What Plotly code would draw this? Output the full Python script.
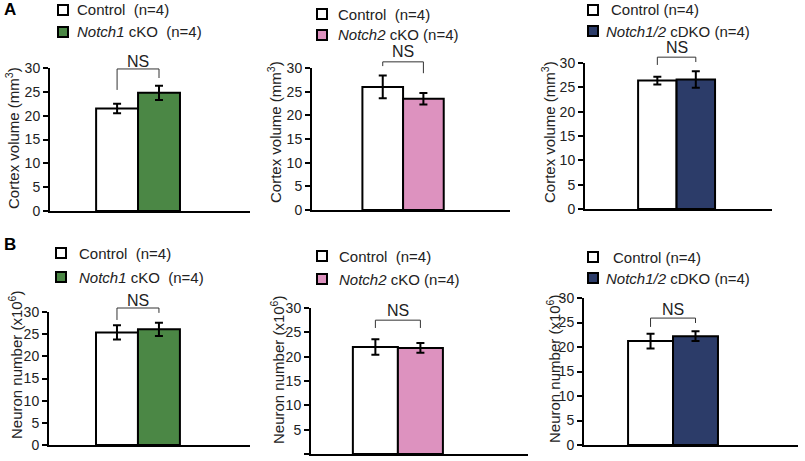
import plotly.graph_objects as go

W, H = 805, 461

# ---- data ----
mutant_labels = ["<i>Notch1</i> cKO", "<i>Notch2</i> cKO", "<i>Notch1/2</i> cDKO",
                 "<i>Notch1</i> cKO", "<i>Notch2</i> cKO", "<i>Notch1/2</i> cDKO"]
control_vals = [21.5, 26.0, 26.4, 25.4, 22.0, 21.2]
control_err = [1.0, 2.4, 0.8, 1.6, 1.6, 1.5]
mutant_vals = [24.8, 23.5, 26.6, 26.1, 21.8, 22.2]
mutant_err = [1.5, 1.2, 1.7, 1.5, 1.0, 1.0]
mutant_colors = ["#4b8745", "#dd92bf", "#2c3c69", "#4b8745", "#dd92bf", "#2c3c69"]
y_titles = ["Cortex volume (mm<sup>3</sup>)"] * 3 + ["Neuron number (x10<sup>6</sup>)"] * 3
y_ticks = [0, 5, 10, 15, 20, 25, 30]

# ---- layout geometry (pixels) ----
# plot-area x0, x1, ytop(30), ybottom(0)
boxes = [(50, 250, 68, 211), (312, 510, 68, 210), (585, 772, 63, 209),
         (49, 250, 312, 445), (311, 528, 308, 454), (584, 798, 298, 445)]
xranges = [(-1.60, 3.17), (-1.74, 3.13), (-1.88, 2.98),
           (-1.62, 3.17), (-1.43, 3.39), (-1.48, 3.28)]
# bracket: top, left leg end, right leg end, NS y (data units)
brackets = [(29.8, 25.4, 27.9, 31.4), (31.3, 30.4, 28.9, 33.4), (31.2, 29.6, 30.2, 33.1),
            (30.9, 28.2, 29.8, 32.7), (27.5, 25.9, 25.9, 29.4), (25.9, 24.1, 24.9, 27.6)]
# y-axis title center (px)
ytitle_pos = [(12, 138), (274, 132), (548, 132), (15, 365), (277, 370), (553, 369)]
# legend: square x0, control center y, mutant center y, control text x, mutant text x
legend_pos = [(58, 10, 32, 75, 75), (317, 14, 35, 336, 336), (588, 10, 31, 609, 604),
              (56, 253, 277, 77, 77), (317, 256, 279, 337, 337), (588, 257, 278, 611, 604)]
control_texts = ["Control&nbsp;&nbsp;(n=4)", "Control&nbsp;&nbsp;(n=4)", "Control (n=4)",
                 "Control&nbsp;&nbsp;(n=4)", "Control&nbsp;&nbsp;(n=4)", "Control (n=4)"]
mutant_suffix = ["&nbsp;&nbsp;(n=4)", " (n=4)", " (n=4)", "&nbsp;&nbsp;(n=4)", " (n=4)", " (n=4)"]

FONT = "Arial, Liberation Sans, sans-serif"
TXT = "#222222"


def px(x):
    return x / W


def py(y):
    return 1 - y / H


fig = go.Figure()
shapes = []
annotations = []

for i in range(6):
    n = "" if i == 0 else str(i + 1)
    xa, ya = "x" + n, "y" + n
    x0, x1, yt, yb = boxes[i]
    fig.add_trace(go.Bar(x=[0], y=[control_vals[i]], width=1,
                         marker=dict(color="white", line=dict(color="black", width=2)),
                         error_y=dict(type="data", array=[control_err[i]], color="black",
                                      thickness=2, width=4),
                         xaxis=xa, yaxis=ya, showlegend=False))
    fig.add_trace(go.Bar(x=[1], y=[mutant_vals[i]], width=1,
                         marker=dict(color=mutant_colors[i], line=dict(color="black", width=2)),
                         error_y=dict(type="data", array=[mutant_err[i]], color="black",
                                      thickness=2, width=4),
                         xaxis=xa, yaxis=ya, showlegend=False))
    fig.update_layout(**{
        "xaxis" + n: dict(domain=[px(x0), px(x1)], range=list(xranges[i]), anchor=ya,
                          showline=True, linecolor="black", linewidth=2, ticks="",
                          showticklabels=False, showgrid=False, zeroline=False,
                          automargin=False),
        "yaxis" + n: dict(domain=[py(yb), py(yt)], range=[0, 30], anchor=xa,
                          tickvals=y_ticks, showline=True, linecolor="black", linewidth=2,
                          ticks="outside", ticklen=5, tickwidth=2, tickcolor="black",
                          showgrid=False, zeroline=False, automargin=False,
                          tickfont=dict(family=FONT, size=14, color=TXT)),
    })

    def dy(v):
        return py(yb - v / 30.0 * (yb - yt))

    # significance bracket (x in data units, y converted to paper so it is not clipped)
    top, l_end, r_end, ns_y = brackets[i]
    bl = dict(color="#333333", width=1)
    shapes.append(dict(type="line", xref=xa, yref="paper", x0=0, x1=0, y0=dy(l_end), y1=dy(top), line=bl))
    shapes.append(dict(type="line", xref=xa, yref="paper", x0=0, x1=1, y0=dy(top), y1=dy(top), line=bl))
    shapes.append(dict(type="line", xref=xa, yref="paper", x0=1, x1=1, y0=dy(r_end), y1=dy(top), line=bl))
    annotations.append(dict(x=0.5, y=dy(ns_y), xref=xa, yref="paper", text="NS", showarrow=False,
                            yanchor="middle", font=dict(family=FONT, size=16, color=TXT)))
    # y title
    tx, ty = ytitle_pos[i]
    annotations.append(dict(x=px(tx), y=py(ty), xref="paper", yref="paper", text=y_titles[i],
                            textangle=-90, showarrow=False, xanchor="center", yanchor="middle",
                            font=dict(family=FONT, size=15, color=TXT)))
    # legend
    sx, cy, my, ctx, mtx = legend_pos[i]
    for cyy, col in ((cy, "white"), (my, mutant_colors[i])):
        shapes.append(dict(type="rect", xref="paper", yref="paper",
                           x0=px(sx), x1=px(sx + 10), y0=py(cyy + 5), y1=py(cyy - 5),
                           fillcolor=col, line=dict(color="black", width=2)))
    annotations.append(dict(x=px(ctx), y=py(cy), xref="paper", yref="paper",
                            text=control_texts[i], showarrow=False, xanchor="left",
                            yanchor="middle", font=dict(family=FONT, size=15, color=TXT)))
    annotations.append(dict(x=px(mtx), y=py(my), xref="paper", yref="paper",
                            text=mutant_labels[i] + mutant_suffix[i], showarrow=False,
                            xanchor="left", yanchor="middle",
                            font=dict(family=FONT, size=15, color=TXT)))

# panel letters
annotations.append(dict(x=px(2), y=py(10), xref="paper", yref="paper", text="<b>A</b>",
                        showarrow=False, xanchor="left", yanchor="middle",
                        font=dict(family=FONT, size=17, color="black")))
annotations.append(dict(x=px(2), y=py(244), xref="paper", yref="paper", text="<b>B</b>",
                        showarrow=False, xanchor="left", yanchor="middle",
                        font=dict(family=FONT, size=17, color="black")))

fig.update_layout(width=W, height=H, margin=dict(l=0, r=0, t=0, b=0, pad=0, autoexpand=False),
                  paper_bgcolor="white", plot_bgcolor="white",
                  barmode="overlay", shapes=shapes, annotations=annotations)

fig.write_html("out.html", config={"displayModeBar": False},
               post_script="document.documentElement.style.margin='0';"
                           "document.body.style.margin='0';document.body.style.padding='0';"
                           "document.body.style.overflow='hidden';")
